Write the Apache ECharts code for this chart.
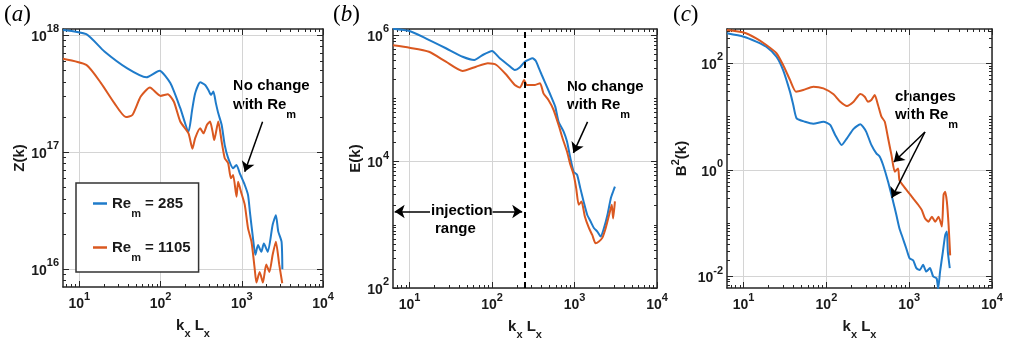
<!DOCTYPE html>
<html><head><meta charset="utf-8">
<script src="https://cdn.jsdelivr.net/npm/echarts@6/dist/echarts.min.js"></script>
<style>html,body{margin:0;padding:0;background:#fff}#c{width:1009px;height:348px}</style>
</head><body><div id="c"></div>
<script>
// ---------- data ----------
// panel (a): Z(k)
const kA285 = [6.3,12.2,20.4,39,67,97,132,175,221,245,267,308,354,388,418,447,480,514,566,617,680,783,861,946,1089,1195,1259,1375,1470,1585,1740,1870,2090,2400,2630,2815,3090,3160];
const zA285 = [1.11e18,1.02e18,7.25e17,5.2e17,4.37e17,4.97e17,3.9e17,2.38e17,1.5e17,2.3e17,3.19e17,3.96e17,3.76e17,3.4e17,3.09e17,3.3e17,2.63e17,2.15e17,1.71e17,1.15e17,8.9e16,7.3e16,7.8e16,6.6e16,5.25e16,4.3e16,3.1e16,1.84e16,1.33e16,1.61e16,1.41e16,1.66e16,1.41e16,2.4e16,2.9e16,2.1e16,1.72e16,1.0e16];
const kA1105 = [6.3,12.2,18.5,27,37.4,45,57,74,100,123,146,175,221,247,267,308,338,372,407,437,458,514,566,617,680,735,783,861,902,990,1089,1195,1318,1445,1515,1660,1820,2000,2190,2400,2630,2890,3150];
const zA1105 = [6.3e17,5.57e17,3.9e17,2.63e17,2.0e17,2.08e17,2.99e17,3.57e17,3.03e17,3.13e17,2.7e17,1.83e17,1.45e17,1.07e17,1.32e17,1.6e17,1.45e17,1.71e17,1.83e17,1.5e17,1.27e17,1.83e17,1.23e17,8.9e16,8.06e16,6.0e16,6.4e16,4.17e16,5.6e16,4.46e16,3.55e16,2.24e16,1.72e16,1.0e16,7.7e15,9.5e15,7.7e15,1.1e16,9.5e15,1.33e16,1.72e16,1.1e16,7.6e15];
// panel (b): E(k)
const kB285 = [6.3,10,15.7,27.6,44,61,77,100,124,157,189,218,250,280,310,340,370,401,462,532,584,641,738,811,891,977,1072,1175,1288,1425,1566,1718,1890,2076,2276,2510,2755,2940,3090];
const eB285 = [1.26e6,1.16e6,8.9e5,6.2e5,4.55e5,4.05e5,4.85e5,5.6e5,4.3e5,3.37e5,2.8e5,3.1e5,3.8e5,4.1e5,4.3e5,3.9e5,3.0e5,2.34e5,1.53e5,1.0e5,7.4e4,4.27e4,2.98e4,2.07e4,1.13e4,6.9e3,6.2e3,3.8e3,2.34e3,1.44e3,1.13e3,890,780,650,890,1440,2630,3360,4000];
const kB1105 = [6.3,10,17.2,27.6,44,64,89,113,150,189,218,245,263,290,332,382,420,483,556,641,716,811,891,977,1047,1125,1216,1334,1494,1640,1800,1976,2170,2390,2630,2830,2940,3090];
const eB1105 = [6.9e5,6.3e5,5.45e5,3.8e5,2.71e5,3.17e5,3.58e5,3.37e5,2.34e5,1.63e5,1.48e5,1.95e5,1.63e5,1.63e5,1.63e5,1.73e5,1.2e5,9.4e4,6.6e4,3.8e4,2.34e4,1.44e4,8.9e3,6.2e3,3.8e3,2.07e3,2.34e3,1.35e3,890,690,510,545,620,890,1440,2070,1260,2340];
// panel (c): B^2(k)
const kC285 = [6.3,10,14.2,18.8,24.9,30,36.3,39.8,43.7,55,69.5,92,111,128,153,177,213,257,276,303,349,401,441,484,556,640,700,761,835,920,1010,1120,1220,1340,1470,1610,1780,1950,2140,2240,2360,2550,2720,2850,2930,3090];
const bC285 = [367,317,257,205,134,75,29.5,16.6,9.3,8.05,7.4,8.05,7.0,4.5,2.95,3.93,5.9,7.2,6.5,5.2,2.95,2.05,1.78,1.24,0.6,0.254,0.143,0.081,0.053,0.034,0.022,0.02,0.0144,0.0133,0.0166,0.0124,0.0144,0.01,0.0093,0.006,0.0124,0.029,0.06,0.07,0.029,0.0144];
const kC1105 = [6.3,10,14.2,18.8,24.9,30,36.3,42.9,52.5,69.5,92,122,147,177,213,257,290,317,349,383,420,462,507,556,611,670,734,761,835,967,1120,1290,1416,1550,1710,1880,2060,2260,2480,2600,2720,2850,2990,3125];
const bC1105 = [425,380,295,221,155,93,49,29.5,31.7,36.6,34,26.3,19.1,15.9,19.1,26.6,23.7,19.1,20.6,25.5,16.6,10,8.05,3.93,1.9,0.93,1.07,0.65,0.52,0.39,0.29,0.22,0.178,0.124,0.107,0.133,0.107,0.133,0.087,0.34,0.39,0.254,0.093,0.025];

const seriesNames = ['Rem = 285', 'Rem = 1105'];
const panelLabels = ['a', 'b', 'c'];
const yNames = ['Z(k)', 'E(k)', '{b|B}{p|2}{b|(k)}'];

// ticks
const xMajor = [10, 100, 1000, 10000];
const yMajor = [[1e16, 1e17, 1e18], [1e2, 1e4, 1e6], [1e-2, 1, 1e2]];
const xRange = [6.3, 10000];
const yRange = [[7.06e15, 1.13e18], [99.99, 1.25e6], [0.0061, 442]];
const yDecades = [[15, 17], [2, 5], [-3, 2]];

// ---------- helpers ----------
const FONT = '"Liberation Sans", Arial, sans-serif';
const BLUE = '#1f7bca', ORANGE = '#da5820';
const AX = '#262626', GRIDC = '#d4d4d4', TXT = '#1a1a1a';
const zip = (ks, vs) => ks.map((k, i) => [k, vs[i]]);
function minorTicks(e0, e1, majors) {
  const out = [];
  for (let e = e0; e <= e1; e++) for (let m = 1; m <= 9; m++) {
    const v = +(m * Math.pow(10, e)).toPrecision(6);
    if (!majors.some(t => Math.abs(t - v) / t < 1e-9)) out.push(v);
  }
  return out;
}
const supRich = {
  b: {fontFamily: FONT, fontWeight: 'bold', fontSize: 14, color: TXT, padding: [4, 0, 0, 0]},
  s: {fontFamily: FONT, fontWeight: 'bold', fontSize: 11, color: TXT, padding: [0, 0, 12, 0]}
};
const powLabel = v => '{b|10}{s|' + Math.round(Math.log10(v)) + '}';
const nameRich = {
  b: {fontFamily: FONT, fontWeight: 'bold', fontSize: 15, color: TXT},
  u: {fontFamily: FONT, fontWeight: 'bold', fontSize: 11, color: TXT, padding: [15, 0, 0, 0]},
  p: {fontFamily: FONT, fontWeight: 'bold', fontSize: 11, color: TXT, padding: [0, 0, 12, 0]}
};
const annRich = {
  b: {fontFamily: FONT, fontWeight: 'bold', fontSize: 15, color: TXT},
  u: {fontFamily: FONT, fontWeight: 'bold', fontSize: 11, color: TXT, padding: [20, 0, 0, 0]}
};

const grids = [
  {left: 63, top: 29, width: 260, height: 258},
  {left: 393, top: 29, width: 264, height: 259},
  {left: 727, top: 29, width: 265, height: 259}
];
const yNameGap = [17, 30, 34];

const xAxis = [], yAxis = [];
grids.forEach((g, gi) => {
  const xb = {type: 'log', gridIndex: gi, min: xRange[0], max: xRange[1], splitLine: {show: false}, axisLabel: {show: false}};
  const xMinor = minorTicks(0, 3, xMajor);
  xAxis.push(Object.assign({}, xb, {
    position: 'bottom',
    axisLine: {show: true, onZero: false, lineStyle: {color: AX, width: 1.5}},
    axisTick: {show: true, inside: true, length: 6, customValues: xMajor, lineStyle: {color: AX, width: 1}},
    axisLabel: {show: true, customValues: xMajor, formatter: powLabel, rich: supRich, margin: 4},
    splitLine: {show: true, lineStyle: {color: GRIDC, width: 1}},
    name: '{b|k}{u|x}{b| L}{u|x}', nameLocation: 'middle', nameGap: 26,
    nameTextStyle: {rich: nameRich}
  }));
  xAxis.push(Object.assign({}, xb, {position: 'bottom', axisLine: {show: false},
    axisTick: {show: true, inside: true, length: 3, customValues: xMinor, lineStyle: {color: AX, width: 1}}}));
  xAxis.push(Object.assign({}, xb, {position: 'top', axisLine: {show: true, onZero: false, lineStyle: {color: AX, width: 1.5}},
    axisTick: {show: true, inside: true, length: 6, customValues: xMajor, lineStyle: {color: AX, width: 1}}}));
  xAxis.push(Object.assign({}, xb, {position: 'top', axisLine: {show: false},
    axisTick: {show: true, inside: true, length: 3, customValues: xMinor, lineStyle: {color: AX, width: 1}}}));

  const yb = {type: 'log', gridIndex: gi, min: yRange[gi][0], max: yRange[gi][1], splitLine: {show: false}, axisLabel: {show: false}};
  const yMinor = minorTicks(yDecades[gi][0], yDecades[gi][1], yMajor[gi]);
  yAxis.push(Object.assign({}, yb, {
    position: 'left',
    axisLine: {show: true, onZero: false, lineStyle: {color: AX, width: 1.5}},
    axisTick: {show: true, inside: true, length: 6, customValues: yMajor[gi], lineStyle: {color: AX, width: 1}},
    axisLabel: {show: true, customValues: yMajor[gi], formatter: powLabel, rich: supRich, margin: 4},
    splitLine: {show: true, lineStyle: {color: GRIDC, width: 1}},
    name: yNames[gi], nameLocation: 'middle', nameGap: yNameGap[gi],
    nameTextStyle: {fontFamily: FONT, fontWeight: 'bold', fontSize: 15, color: TXT, rich: nameRich}
  }));
  yAxis.push(Object.assign({}, yb, {position: 'left', axisLine: {show: false},
    axisTick: {show: true, inside: true, length: 3, customValues: yMinor, lineStyle: {color: AX, width: 1}}}));
  yAxis.push(Object.assign({}, yb, {position: 'right', axisLine: {show: true, onZero: false, lineStyle: {color: AX, width: 1.5}},
    axisTick: {show: true, inside: true, length: 6, customValues: yMajor[gi], lineStyle: {color: AX, width: 1}}}));
  yAxis.push(Object.assign({}, yb, {position: 'right', axisLine: {show: false},
    axisTick: {show: true, inside: true, length: 3, customValues: yMinor, lineStyle: {color: AX, width: 1}}}));
});

const arrowLine = {silent: true, symbol: ['none', 'arrow'], symbolSize: 10, label: {show: false},
  lineStyle: {color: '#000', width: 1.5, type: 'solid'}, emphasis: {disabled: true}, animation: false};

function lineSeries(gi, name, color, data, extra) {
  return Object.assign({
    type: 'line', name: name, xAxisIndex: gi * 4, yAxisIndex: gi * 4, data: data,
    showSymbol: false, symbol: 'none', smooth: 0.2, clip: true,
    lineStyle: {color: color, width: 2}, itemStyle: {color: color}, z: 3
  }, extra || {});
}

const series = [
  lineSeries(0, seriesNames[0], BLUE, zip(kA285, zA285), {
    markLine: Object.assign({}, arrowLine, {data: [[{coord: [1803, 1.82e17]}, {coord: [1089, 6.8e16]}]]})
  }),
  lineSeries(0, seriesNames[1], ORANGE, zip(kA1105, zA1105)),
  lineSeries(1, seriesNames[0], BLUE, zip(kB285, eB285), {
    markLine: Object.assign({}, arrowLine, {data: [
      [{coord: [1439, 4.24e4]}, {coord: [970, 1.37e4]}],
      [{coord: [17.7, 1620]}, {coord: [6.6, 1620]}],
      [{coord: [101.6, 1620]}, {coord: [232, 1620]}]
    ]})
  }),
  lineSeries(1, seriesNames[1], ORANGE, zip(kB1105, eB1105), {
    markLine: {silent: true, symbol: ['none', 'none'], label: {show: false}, animation: false,
      emphasis: {disabled: true},
      lineStyle: {color: '#000', width: 2, type: [6, 4]}, data: [{xAxis: 250}]}
  }),
  lineSeries(2, seriesNames[0], BLUE, zip(kC285, bC285), {
    markLine: Object.assign({}, arrowLine, {data: [
      [{coord: [1550, 5.16]}, {coord: [652, 1.41]}],
      [{coord: [1550, 5.16]}, {coord: [617, 0.3]}]
    ]})
  }),
  lineSeries(2, seriesNames[1], ORANGE, zip(kC1105, bC1105))
];

const graphic = [];
const labelX = [4, 333, 673];
panelLabels.forEach((p, i) => graphic.push({type: 'text', left: labelX[i], top: 3,
  style: {text: '{n|(}{i|' + p + '}{n|)}', rich: {
    n: {fontFamily: '"Liberation Serif", serif', fontSize: 23, fill: '#000'},
    i: {fontFamily: '"Liberation Serif", serif', fontSize: 23, fontStyle: 'italic', fill: '#000'}}}}));
function ann(x, y, text) {
  graphic.push({type: 'text', x: x, y: y, style: {text: text, rich: annRich, verticalAlign: 'middle', align: 'left'}});
}
ann(233, 86, '{b|No change}');
ann(233, 105, '{b|with Re}{u|m}');
ann(567, 87, '{b|No change}');
ann(567, 105, '{b|with Re}{u|m}');
ann(895, 97, '{b|changes}');
ann(895, 115, '{b|with Re}{u|m}');
ann(431, 211, '{b|injection}');
ann(435, 229, '{b|range}');

const option = {
  animation: false,
  backgroundColor: '#fff',
  grid: grids,
  xAxis: xAxis,
  yAxis: yAxis,
  legend: {
    data: seriesNames.map(n => ({name: n, icon: 'rect'})), orient: 'vertical', left: 76, top: 183,
    padding: [13, 8, 9, 17], itemGap: 21, itemWidth: 14, itemHeight: 2.5,
    borderColor: '#333', borderWidth: 1.5, backgroundColor: '#fff',
    formatter: n => '{b|Re}{u|m}{b| = ' + n.split(' = ')[1] + '}',
    textStyle: {rich: annRich}, selectedMode: false
  },
  series: series,
  graphic: graphic
};
const chart = echarts.init(document.getElementById('c'), null, {renderer: 'canvas'});
chart.setOption(option);
</script></body></html>
